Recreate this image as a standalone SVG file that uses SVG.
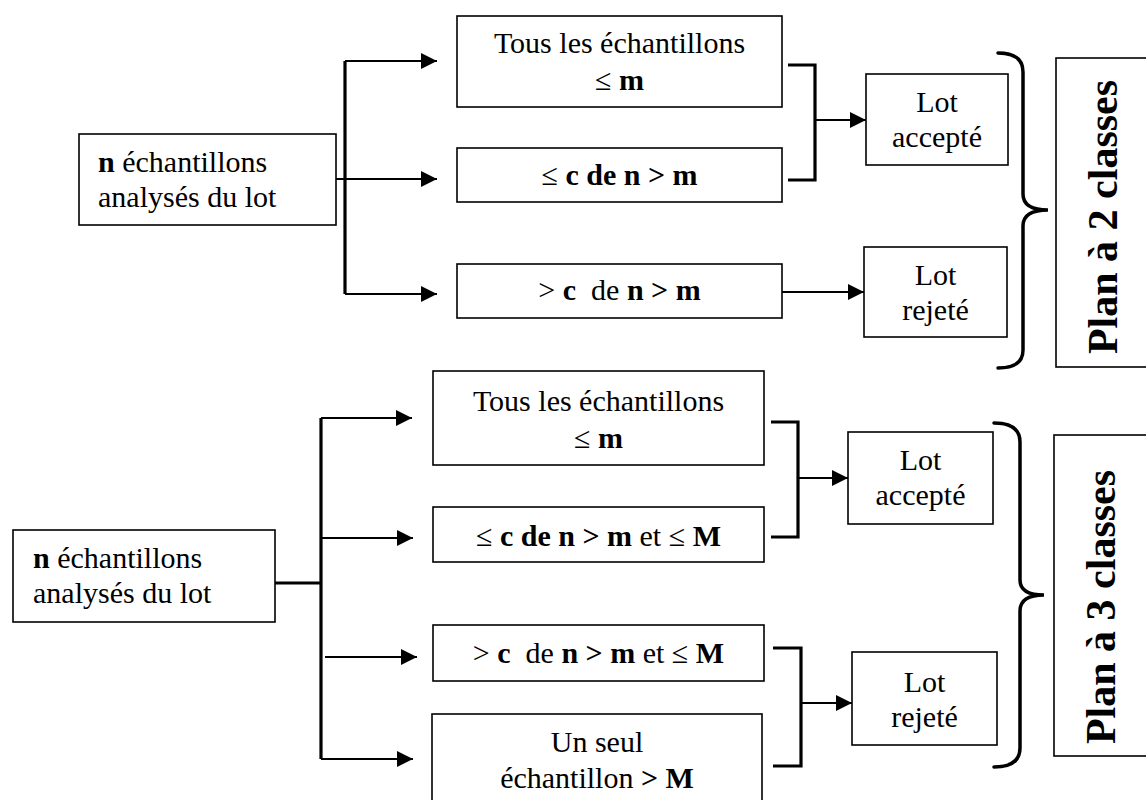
<svg xmlns="http://www.w3.org/2000/svg" width="1146" height="800" viewBox="0 0 1146 800">
<style>
text{font-family:"Liberation Serif","Times New Roman",serif;font-size:30px;fill:#000}
.c{text-anchor:middle}
.b{font-weight:bold}
.box{fill:#fff;stroke:#000;stroke-width:1.6}
.ln{fill:none;stroke:#000;stroke-width:2}
.tk{fill:none;stroke:#000;stroke-width:3.2}
.br{fill:none;stroke:#000;stroke-width:3.5;stroke-linecap:round}
.plan{font-size:42px;font-weight:bold;text-anchor:middle}
</style>
<defs>
<marker id="ah" markerUnits="userSpaceOnUse" markerWidth="16" markerHeight="16" refX="16" refY="8" orient="auto">
<path d="M0,0 L16,8 L0,16 Z" fill="#000"/>
</marker>
</defs>

<g id="connectors">
<!-- top section -->
<line class="tk" x1="345" y1="61" x2="345" y2="294"/>
<line class="ln" x1="345" y1="61" x2="437" y2="61" marker-end="url(#ah)"/>
<line class="ln" x1="336" y1="179" x2="437" y2="179" marker-end="url(#ah)"/>
<line class="ln" x1="345" y1="294" x2="437" y2="294" marker-end="url(#ah)"/>
<path class="tk" d="M788,65 L815,65 L815,180 L788,180"/>
<line class="ln" x1="815" y1="120" x2="866" y2="120" marker-end="url(#ah)"/>
<line class="ln" x1="782" y1="292" x2="864" y2="292" marker-end="url(#ah)"/>
<path class="br" d="M998,53 Q1023,53 1023,72 L1023,194 Q1023,210 1048,210 Q1023,210 1023,226 L1023,350 Q1023,368 998,368"/>
<!-- bottom section -->
<line class="tk" x1="275" y1="583" x2="321" y2="583"/>
<line class="tk" x1="321" y1="418" x2="321" y2="759"/>
<line class="ln" x1="321" y1="418" x2="412" y2="418" marker-end="url(#ah)"/>
<line class="ln" x1="321" y1="538" x2="413" y2="538" marker-end="url(#ah)"/>
<line class="ln" x1="325" y1="657" x2="417" y2="657" marker-end="url(#ah)"/>
<line class="ln" x1="321" y1="759" x2="413" y2="759" marker-end="url(#ah)"/>
<path class="tk" d="M771,422 L798,422 L798,537 L771,537"/>
<line class="ln" x1="798" y1="478" x2="848" y2="478" marker-end="url(#ah)"/>
<path class="tk" d="M773,648 L801,648 L801,766 L773,766"/>
<line class="ln" x1="801" y1="703" x2="852" y2="703" marker-end="url(#ah)"/>
<path class="br" d="M994,423 Q1020,423 1020,442 L1020,580 Q1020,595 1044,595 Q1020,595 1020,611 L1020,748 Q1020,767 994,767"/>
</g>

<!-- top section nodes -->
<g id="top-source">
<rect class="box" x="79" y="134" width="257" height="91"/>
<text x="98" y="172"><tspan class="b">n</tspan> échantillons</text>
<text x="98" y="207">analysés du lot</text>
</g>
<g id="top-all-le-m">
<rect class="box" x="457" y="16" width="325" height="91"/>
<text class="c" x="619.5" y="53">Tous les échantillons</text>
<text class="c" x="619.5" y="90">≤ <tspan class="b">m</tspan></text>
</g>
<g id="top-le-c">
<rect class="box" x="457" y="148" width="325" height="54"/>
<text class="c" x="619.5" y="185">≤ <tspan class="b">c de n &gt; m</tspan></text>
</g>
<g id="top-gt-c">
<rect class="box" x="457" y="264" width="325" height="54"/>
<text class="c" x="619.5" y="300" xml:space="preserve">&gt; <tspan class="b">c</tspan>  de <tspan class="b">n &gt; m</tspan></text>
</g>
<g id="top-accepte">
<rect class="box" x="866" y="74" width="142" height="91"/>
<text class="c" x="937" y="112">Lot</text>
<text class="c" x="937" y="147">accepté</text>
</g>
<g id="top-rejete">
<rect class="box" x="864" y="247" width="143" height="90"/>
<text class="c" x="935.5" y="285">Lot</text>
<text class="c" x="935.5" y="320">rejeté</text>
</g>
<g id="plan2">
<rect class="box" x="1056" y="58" width="100" height="309"/>
<text class="plan" transform="translate(1117,217) rotate(-90)" x="0" y="0">Plan à 2 classes</text>
</g>

<!-- bottom section nodes -->
<g id="bot-source">
<rect class="box" x="13" y="530" width="262" height="92"/>
<text x="33" y="568"><tspan class="b">n</tspan> échantillons</text>
<text x="33" y="603">analysés du lot</text>
</g>
<g id="bot-all-le-m">
<rect class="box" x="433" y="371" width="331" height="94"/>
<text class="c" x="598.5" y="411">Tous les échantillons</text>
<text class="c" x="598.5" y="448">≤ <tspan class="b">m</tspan></text>
</g>
<g id="bot-le-c">
<rect class="box" x="433" y="507" width="331" height="55"/>
<text class="c" x="598.5" y="546">≤ <tspan class="b">c de n &gt; m</tspan> et ≤ <tspan class="b">M</tspan></text>
</g>
<g id="bot-gt-c">
<rect class="box" x="433" y="625" width="331" height="56"/>
<text class="c" x="598.5" y="663" xml:space="preserve">&gt; <tspan class="b">c</tspan>  de <tspan class="b">n &gt; m</tspan> et ≤ <tspan class="b">M</tspan></text>
</g>
<g id="bot-one-gt-M">
<rect class="box" x="432" y="714" width="330" height="100"/>
<text class="c" x="597" y="752">Un seul</text>
<text class="c" x="597" y="788">échantillon <tspan class="b">&gt; M</tspan></text>
</g>
<g id="bot-accepte">
<rect class="box" x="848" y="432" width="145" height="92"/>
<text class="c" x="920.5" y="470">Lot</text>
<text class="c" x="920.5" y="505">accepté</text>
</g>
<g id="bot-rejete">
<rect class="box" x="852" y="652" width="145" height="93"/>
<text class="c" x="924.5" y="692">Lot</text>
<text class="c" x="924.5" y="727">rejeté</text>
</g>
<g id="plan3">
<rect class="box" x="1054" y="435" width="100" height="321"/>
<text class="plan" transform="translate(1115,607) rotate(-90)" x="0" y="0">Plan à 3 classes</text>
</g>
</svg>
